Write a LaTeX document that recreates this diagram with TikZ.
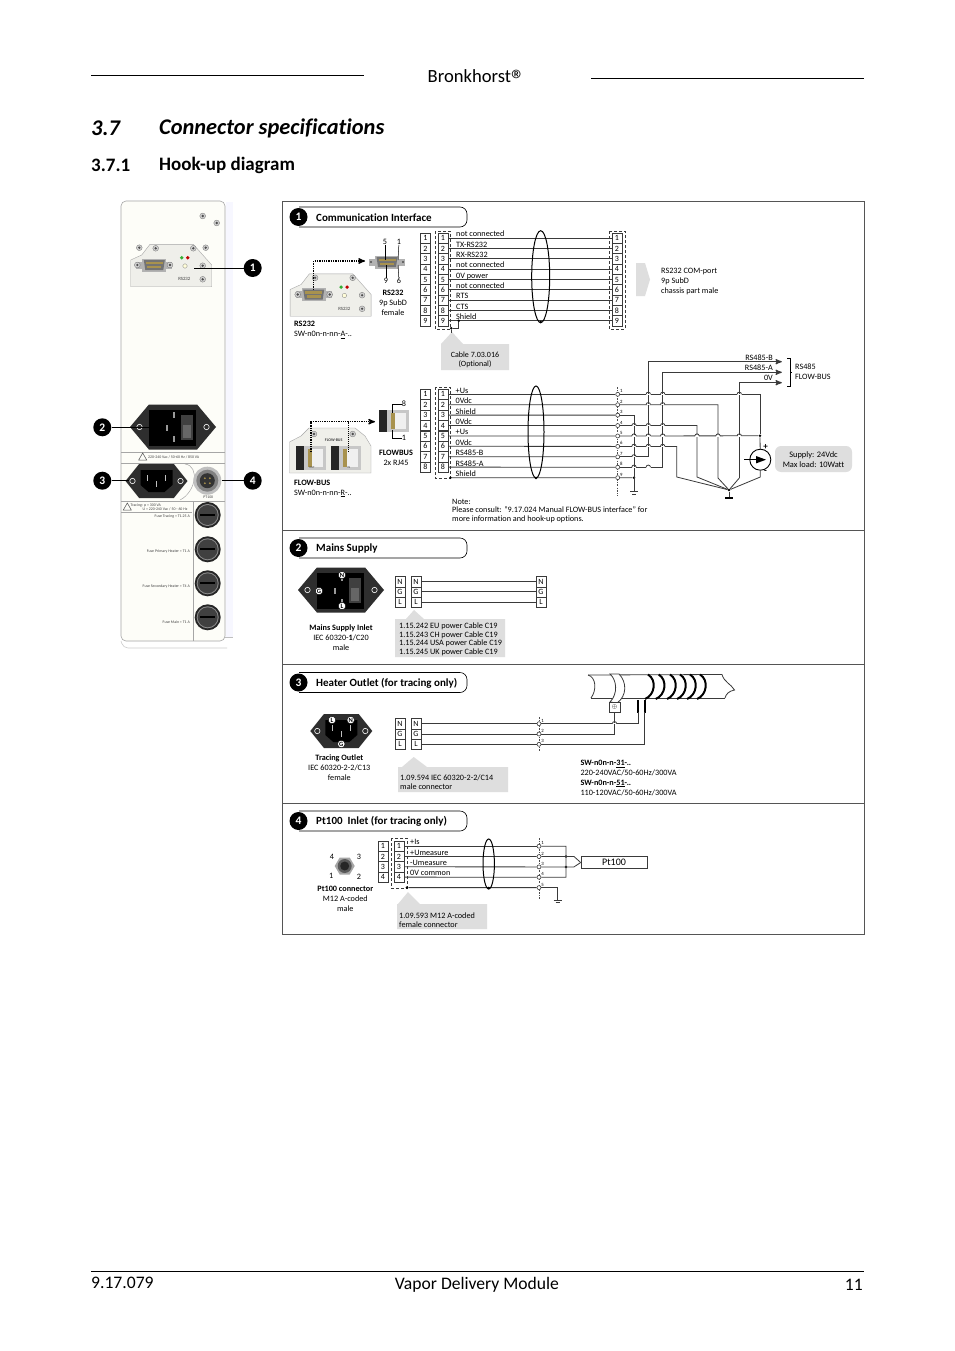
\documentclass[tikz,border=0pt]{standalone}
\usepackage{fontspec}
\setmainfont{Carlito}[Numbers=Lining,Ligatures=CommonOff]
\usetikzlibrary{arrows,positioning}

\definecolor{wirecol}{HTML}{3A3A3A}
\definecolor{framecol}{HTML}{555555}
\definecolor{noteback}{HTML}{DEDEDE}
\definecolor{plateback}{HTML}{EFEFEA}
\definecolor{panelback}{HTML}{FDFDF8}
\definecolor{contact}{HTML}{A8924E}

% section heading bar: number, centre height, title
\newcommand\headbar[3]{
  \draw[pill] (299,#2-10) -- (467,#2-10) -- (467,#2+10) -- (299,#2+10);
  \node[badge] (head#1) at (298.5,#2) {#1};
  \node[headtxt] (title#1) at (316,#2) {#3};
}
\newcommand\hop[2]{
  \draw[white,line width=1.3pt] (#1-2.2,#2) -- (#1+2.2,#2);
  \draw[wire] (#1-2.2,#2) .. controls (#1-2.2,#2-2.8) and (#1+2.2,#2-2.8) .. (#1+2.2,#2);
}
\newcommand\screw[2]{
  \fill[black!18] (#1,#2) circle[radius=2.9];
  \draw[black!55,line width=.3pt] (#1,#2) circle[radius=2.9];
  \fill[black!70] (#1,#2) circle[radius=1.3];
}
% 9 pin sub-D with flange
\newcommand\dsub[2]{
  \fill[black!30] (#1-18,#2-3.5) rectangle (#1+18,#2+3.5);
  \fill[black!30] (#1-12,#2-6.5) rectangle (#1+12,#2+6.5);
  \fill[black!55] (#1-10.5,#2-5) -- (#1+10.5,#2-5) -- (#1+9,#2+5) -- (#1-9,#2+5) -- cycle;
  \fill[contact] (#1-8.5,#2-3.2) rectangle (#1+8.5,#2-.7);
  \fill[contact] (#1-7,#2+.7) rectangle (#1+7,#2+3.2);
  \fill[black!70] (#1-16,#2) circle[radius=1.2];
  \fill[black!70] (#1+16,#2) circle[radius=1.2];
}
% RS232 plate around a sub-D at #1,#2
\newcommand\rsplate[2]{
  \draw[draw=black!35,fill=plateback,line width=.4pt] (#1-23.6,#2+21.7) -- (#1-23.6,#2-5) -- (#1-12.6,#2-10) -- (#1-4.3,#2-20.7) -- (#1+39,#2-20.7) -- (#1+57.4,#2) -- (#1+57.4,#2+21.7) -- cycle;
  \dsub{#1}{#2}
  \foreach \sx/\sy in {1.4/-16.7,39/-16.7,48.4/.7,48.4/14.3} {\screw{#1+\sx}{#2+\sy}}
  \fill[green!60!black!80] (#1+27.4,#2-7.3) circle[radius=1.9];
  \fill[red!75!black] (#1+33.4,#2-7.3) circle[radius=1.9];
  \draw[black!50,fill=yellow!15,line width=.3pt] (#1+30.7,#2+1) circle[radius=2.2];
}
\newcommand\hexplate[4]{
  \fill[black!82] (#1-#3,#2) -- (#1-.56*#3,#2-#4) -- (#1+.56*#3,#2-#4) -- (#1+#3,#2) -- (#1+.56*#3,#2+#4) -- (#1-.56*#3,#2+#4) -- cycle;
}
% mains inlet with switch
\newcommand\inletplate[2]{
  \hexplate{#1}{#2}{43}{22.5}
  \fill[black] (#1-24,#2-17) rectangle (#1+23,#2+19);
  \fill[black!75] (#1+8,#2-12) rectangle (#1+20,#2+13);
  \fill[black!60] (#1+10,#2-2) rectangle (#1+18,#2+11);
  \foreach \sx/\sy in {1/-12,-6/1,1/12} {\fill[black!40] (#1+\sx-1,#2+\sy-3) rectangle (#1+\sx+1,#2+\sy+3);}
  \draw[white,line width=.6pt] (#1-33.5,#2) circle[radius=2.7];
  \draw[white,line width=.6pt] (#1+33.5,#2) circle[radius=2.7];
}
% tracing outlet
\newcommand\outletplate[2]{
  \hexplate{#1}{#2}{31}{17}
  \fill[black] (#1-16,#2-11) -- (#1+16,#2-11) -- (#1+16,#2+4) -- (#1+8,#2+11) -- (#1-8,#2+11) -- (#1-16,#2+4) -- cycle;
  \foreach \sx/\sy in {-9/-3,9/-3,0/3} {\fill[black!25] (#1+\sx-.8,#2+\sy-3) rectangle (#1+\sx+.8,#2+\sy+3);}
  \draw[white,line width=.6pt] (#1-24,#2) circle[radius=2.7];
  \draw[white,line width=.6pt] (#1+24,#2) circle[radius=2.7];
}
\newcommand\fusecap[2]{
  \fill[black!85] (#1,#2) circle[radius=13];
  \fill[black!45] (#1,#2) circle[radius=11];
  \fill[black!75] (#1,#2) circle[radius=10];
  \fill[black] (#1-7.5,#2-1) rectangle (#1+7.5,#2+1);
}
% RJ45 jack, #3 = half height
\newcommand\rjack[3]{
  \fill[black!85] (#1-15,#2-#3) rectangle (#1-7,#2+#3);
  \fill[black!22] (#1-7,#2-#3) rectangle (#1+15,#2+#3);
  \fill[black!6] (#1+1,#2-#3+3) -- (#1+12,#2-#3+3) -- (#1+12,#2+#3-3) -- (#1+1,#2+#3-3) -- cycle;
  \fill[contact] (#1-3,#2-#3+3) rectangle (#1+1,#2+#3-3);
}
\newcommand\warntri[2]{
  \draw[black!70,line width=.5pt] (#1-4,#2+3) -- (#1,#2-4) -- (#1+4,#2+3) -- cycle;
}

\begin{document}
\begin{tikzpicture}[x=1pt,y=-1pt,>=stealth',
  wire/.style={draw=wirecol,line width=.8pt},
  thinwire/.style={draw=black,line width=.5pt},
  pin/.style={draw=wirecol,line width=.5pt,fill=white,minimum width=10.3pt,minimum height=10.3pt,inner sep=0pt,font=\fontsize{8}{8}\selectfont},
  term/.style={circle,draw=wirecol,line width=.6pt,fill=white,minimum size=4pt,inner sep=0pt},
  num/.style={inner sep=0pt,font=\fontsize{4.8}{5}\selectfont},
  dot/.style={circle,fill=black,minimum size=2.8pt,inner sep=0pt},
  wirelab/.style={anchor=west,inner sep=0pt,yshift=-.8pt,text height=5.2pt,text depth=1.4pt,font=\fontsize{8.2}{9}\selectfont},
  txt/.style={inner sep=0pt,align=center,font=\fontsize{8.2}{10}\selectfont},
  txtl/.style={inner sep=0pt,align=left,anchor=north west,font=\fontsize{8.2}{10}\selectfont},
  tiny/.style={inner sep=0pt,align=left,text=black!75,font=\fontsize{3.9}{4.4}\selectfont},
  notetxt/.style={inner sep=0pt,align=left,anchor=north west,font=\fontsize{8.2}{8.4}\selectfont},
  note/.style={fill=noteback,draw=none},
  pill/.style={draw=black,line width=.6pt,rounded corners=7pt},
  badge/.style={circle,fill=black,text=white,minimum size=18pt,inner sep=0pt,font=\fontsize{11.5}{12}\bfseries\selectfont},
  headtxt/.style={anchor=west,inner sep=0pt,yshift=-.8pt,font=\fontsize{11}{12}\bfseries\selectfont},
  letter/.style={circle,draw=black,line width=.4pt,fill=white,minimum size=7.5pt,inner sep=0pt,font=\fontsize{6.5}{7}\bfseries\selectfont},
  boxdash/.style={draw=wirecol,line width=.6pt,dash pattern=on 3pt off 2pt},
  axis/.style={draw=black!70,line width=.5pt,dash pattern=on 2pt off 1.4pt on .6pt off 1.4pt},
  pagetxt/.style={inner sep=0pt,font=\fontsize{17.6}{20}\selectfont},
  bigtxt/.style={inner sep=0pt,anchor=west,font=\fontsize{22.4}{26}\bfseries\itshape\selectfont},
  subtxt/.style={inner sep=0pt,anchor=west,font=\fontsize{19}{22}\bfseries\selectfont},
  pageline/.style={draw=black,line width=.7pt},
  link/.style={draw=black,line width=.6pt},
  pointer/.style={->,densely dotted,draw=black,line width=1.3pt}]
\fill[white] (0,0) rectangle (954,1351);
\useasboundingbox (0,0) rectangle (954,1351);

% page header and footer
\draw[pageline] (91,75) -- (364,75);
\draw[pageline] (591,78) -- (864,78);
\node[pagetxt,font=\fontsize{18.6}{20}\selectfont,anchor=base] (brand) at (476.5,82.5) {Bronkhorst{\fontsize{28}{28}\selectfont\raisebox{-7pt}{®}}};
\node[bigtxt] (secnum) at (91,128) {3.7};
\node[bigtxt] (sectitle) at (159,128) {Connector specifications};
\node[subtxt] (subnum) at (91,165) {3.7.1};
\node[subtxt] (subtitle) at (159,165) {Hook-up diagram};
\draw[pageline] (91,1271) -- (864,1271);
\node[pagetxt,anchor=west] (docnum) at (91,1282.5) {9.17.079};
\node[pagetxt] (docname) at (477,1284.5) {Vapor Delivery Module};
\node[pagetxt,anchor=east] (pagenum) at (863,1284.5) {11};

% instrument rear panel
\fill[black!2!blue!3] (226,202) rectangle (233,637);
\draw[black!25,line width=.5pt] (225,637) -- (233,637);
\draw[black!20,line width=.6pt,rounded corners=5pt] (121,641) -- (123,648) -- (227,648);
\draw[draw=black!35,fill=panelback,line width=.6pt,rounded corners=5pt] (121,641) -- (121,201) -- (225,201) -- (225,641) -- cycle;
\screw{202.7}{216}
\screw{216.7}{223}
\rsplate{154.3}{265}
\screw{139.3}{247.7}
\screw{205.7}{247.7}
\screw{137.3}{265}
\screw{170}{265}
\node[tiny,font=\fontsize{4.8}{5}\selectfont] (panelrs) at (184.3,279) {RS232};
\inletplate{173}{427}
\draw[black!35,line width=.5pt] (121,452.7) -- (225,452.7);
\draw[black!35,line width=.5pt] (121,463.3) -- (225,463.3);
\warntri{142.7}{457}
\node[tiny,anchor=west] (ratea) at (148,457.5) {220-240 Vac / 50-60 Hz / 850 VA};
\draw[black!35,line width=.5pt] (185,464) .. controls (200,466) and (196,492) .. (180,500);
\outletplate{156.5}{481}
\fill[black!25] (207.3,480.7) circle[radius=14];
\fill[black!50] (207.3,480.7) circle[radius=11];
\fill[black!80] (207.3,480.7) circle[radius=7.5];
\foreach \sx/\sy in {-2.5/-2.5,2.5/-2.5,-2.5/2.5,2.5/2.5} {\fill[contact] (207.3+\sx,480.7+\sy) circle[radius=1];}
\node[tiny] (panelpt) at (208.3,497.3) {PT100};
\draw[black!35,line width=.5pt] (121,501) -- (225,501);
\draw[black!35,line width=.5pt] (121,512.3) -- (191.7,512.3);
\draw[black!35,line width=.5pt] (193.3,501) -- (193.3,641);
\warntri{127.3}{507}
\node[tiny] (rateb) at (159,507) {Tracing: p = 300 VA\\\hspace*{12pt}U = 220-240 Vac / 50 - 60 Hz};
\fusecap{207.7}{515}
\fusecap{207.7}{549.3}
\fusecap{207.7}{583.3}
\fusecap{207.7}{617.3}
\node[tiny,anchor=east] (fusea) at (190,516) {Fuse Tracing = T1.25 A};
\node[tiny,anchor=east] (fuseb) at (190,551.7) {Fuse Primary Heater = T1 A};
\node[tiny,anchor=east] (fusec) at (190,586.7) {Fuse Secondary Heater = T4 A};
\node[tiny,anchor=east] (fused) at (190,622.3) {Fuse Main = T1 A};
% panel call-outs
\coordinate (spot1) at (194,268);
\coordinate (spot2) at (157,427.3);
\coordinate (spot3) at (129,480.7);
\coordinate (spot4) at (221.7,480.7);
\node[badge] (mark1) at (252.7,268) {1};
\node[badge] (mark2) at (102.3,427.3) {2};
\node[badge] (mark3) at (102.3,480.7) {3};
\node[badge] (mark4) at (252.7,480.7) {4};
\draw[link] (mark1) -- (spot1);
\draw[link] (mark2) -- (spot2);
\draw[link] (mark3) -- (spot3);
\draw[link] (mark4) -- (spot4);

% frame
\draw[draw=framecol,line width=.8pt] (282,201) rectangle (864.5,934.5);
\draw[draw=framecol,line width=.8pt] (282,530.5) -- (864.5,530.5);
\draw[draw=framecol,line width=.8pt] (282,664.5) -- (864.5,664.5);
\draw[draw=framecol,line width=.8pt] (282,803) -- (864.5,803);

% 1: RS232
\headbar{1}{217}{Communication Interface}
\rsplate{313.7}{294.5}
\screw{297.7}{294.5}
\screw{329.7}{294.5}
\node[tiny,font=\fontsize{4.8}{5}\selectfont] (platers) at (344.3,308.5) {RS232};
\dsub{387}{262}
\coordinate (rsfrom) at (313.7,290);
\coordinate (rsto) at (365,261);
\draw[pointer] (rsfrom) |- (rsto);
\node[txt] (p5) at (385,242) {5};
\node[txt] (p1) at (399,242) {1};
\node[txt] (p9) at (386,281) {9};
\node[txt] (p6) at (399,281) {6};
\draw[thinwire] (p5) -- (385,260);
\draw[thinwire] (p1) -- (398,260);
\draw[thinwire] (p9) -- (386,265);
\draw[thinwire] (p6) -- (398,265);
\node[txt,anchor=north] (rsname) at (393,289.5) {\textbf{RS232}\\9p SubD\\female};
\node[txtl] (rsmodel) at (294,321) {\textbf{RS232}\\SW-n0n-n-nn-\underline{A}-..};
\draw[boxdash] (435,231) rectangle (450,329);
\draw[boxdash] (609,231) rectangle (625,329);
\foreach \i in {1,...,9} {
  \node[pin] (ra\i) at (425.5,{238.2+10.33*(\i-1)}) {\i};
  \node[pin] (rb\i) at (443,{238.2+10.33*(\i-1)}) {\i};
  \node[pin] (rc\i) at (617,{238.2+10.33*(\i-1)}) {\i};
  \draw[wire] (rb\i) -- (rc\i);
}
\foreach \i/\t in {1/not connected,2/TX-RS232,3/RX-RS232,4/not connected,5/0V power,6/not connected,7/RTS,8/CTS,9/Shield} {
  \node[wirelab] (rl\i) at (456,{234.2+10.33*(\i-1)}) {\t};
}
\draw[wire,line width=1pt,draw=black] (540.7,276.7) ellipse[x radius=9,y radius=46];
\node[dot] (rsdot) at (540.7,322) {};
\node[dot] (shlda) at (458.7,320.8) {};
\node[dot] (shldb) at (451.3,328.3) {};
\draw[wire] (shlda) |- (shldb);
\draw[note,fill=noteback] (441,344) -- (452,332) -- (463,344) -- (509,344) -- (509,370) -- (441,370) -- cycle;
\draw[wire] (shldb) -- (451.3,333);
\node[txt,font=\fontsize{8}{8.8}\selectfont] (cable) at (475,360) {Cable 7.03.016\\(Optional)};
\fill[noteback] (636,263) -- (645,263) -- (650,279.5) -- (645,296) -- (636,296) -- cycle;
\node[txtl] (rsport) at (661,268) {RS232 COM-port\\9p SubD\\chassis part male};

% 1: FLOW-BUS
\draw[draw=black!35,fill=plateback,line width=.4pt] (289.5,473) -- (289.5,442) -- (301,436) -- (309,428) -- (355,428) -- (365,436) -- (371,446) -- (371,473) -- cycle;
\rjack{311}{457.7}{12}
\rjack{346}{457.7}{12}
\screw{314}{434}
\screw{352.7}{434}
\node[tiny,font=\fontsize{4}{5}\bfseries\selectfont] (busplate) at (333.7,440) {FLOW-BUS};
\node[tiny,font=\fontsize{3}{4}\selectfont] (busout) at (312,468) {OUT};
\node[tiny,font=\fontsize{3}{4}\selectfont] (busin) at (349,468) {IN};
\rjack{393.7}{421}{11}
\coordinate (busa) at (311,452);
\coordinate (busb) at (348,452);
\coordinate (busc) at (375,421.7);
\draw[densely dotted,line width=1pt] (busb) -- (348,421.7);
\draw[pointer] (busa) |- (busc);
\node[txt] (n8) at (404,404) {8};
\node[txt] (n1) at (404,438) {1};
\draw[thinwire] (n8) -| (392,413);
\draw[thinwire] (n1) -| (392,430);
\node[txt,anchor=north] (busname) at (396,449.5) {\textbf{FLOWBUS}\\2x RJ45};
\node[txtl] (busmodel) at (294,479.5) {\textbf{FLOW-BUS}\\SW-n0n-n-nn-\underline{R}-..};
\draw[boxdash] (435,387) rectangle (450,478);
\draw[axis] (617.7,387) -- (617.7,496);
\foreach \i in {1,...,8} {
  \node[pin] (fa\i) at (425.5,{394.3+10.4*(\i-1)}) {\i};
  \node[pin] (fb\i) at (443,{394.3+10.4*(\i-1)}) {\i};
}
\foreach \i in {1,...,9} {
  \node[term] (ft\i) at (617.7,{394.3+10.42*(\i-1)}) {};
  \node[num,above right=-.3pt and .6pt of ft\i] (fn\i) {\i};
}
\foreach \i in {1,...,8} {
  \draw[wire] (fb\i) -- (ft\i);
}
\foreach \i/\t in {1/+Us,2/0Vdc,3/Shield,4/0Vdc,5/+Us,6/0Vdc,7/RS485-B,8/RS485-A,9/Shield} {
  \node[wirelab] (fl\i) at (455.5,{390.5+10.42*(\i-1)}) {\t};
}
\node[dot] (fshld) at (450.5,477.7) {};
\draw[wire] (fshld) -- (ft9);
\draw[wire,line width=1pt,draw=black] (536,432) ellipse[x radius=8,y radius=46];
\node[dot] (fbdot) at (536,478) {};
\node[txtl,font=\fontsize{8.2}{8.6}\selectfont] (busnote) at (452,498.8) {Note:\\Please consult: ''9.17.024 Manual FLOW-BUS interface'' for\\more information and hook-up options.};
% supply and outgoing lines
\node[circle,draw=black,line width=.9pt,minimum size=21pt,inner sep=0pt] (src) at (760.3,459.7) {};
\coordinate (srcin) at (744,459.7);
\fill[black] (756,456) -- (766,459.7) -- (756,463.4) -- cycle;
\draw[thinwire] (srcin) -- (756,459.7);
\node[txt,font=\fontsize{9}{9}\bfseries\selectfont] (srcplus) at (765.5,447) {+};
\node[txt,font=\fontsize{9}{9}\bfseries\selectfont] (srcminus) at (765.5,472) {-};
\node[fill=noteback,rounded corners=6pt,minimum width=77pt,minimum height=26pt,inner sep=0pt,align=center,font=\fontsize{8.4}{10}\selectfont] (supply) at (813.5,459) {\rule{0pt}{8pt}Supply: 24Vdc\\Max load: 10Watt};
\node[dot] (gnd) at (729,490) {};
\fill[black] (725,496.7) rectangle (733.3,499);
\draw[wire] (gnd) -- (729,497);
\node[dot] (jplus) at (760,435.8) {};
\coordinate (tb) at (648.3,361.7);
\coordinate (ta) at (662.7,372.3);
\coordinate (tz) at (739.3,382.7);
\coordinate (ka) at (718,478);
\coordinate (kb) at (697,477);
\coordinate (kc) at (676.7,477);
\coordinate (kd) at (739.3,478);
\coordinate (ke) at (760.3,477);
\node[inner sep=0pt,minimum size=0pt] (outb) at (782,361.7) {};
\node[inner sep=0pt,minimum size=0pt] (outa) at (782,372.3) {};
\node[inner sep=0pt,minimum size=0pt] (outz) at (782,382.7) {};
\draw[wire,->,line width=1.2pt] (ft7) -| (tb) -- (outb);
\draw[wire,->,line width=1.2pt] (ft8) -| (ta) -- (outa);
\draw[wire,->,line width=1.2pt] (kd) -- (tz) -- (outz);
\draw[wire] (ft1) -| (jplus);
\draw[wire] (ft5) -- (jplus);
\draw[wire] (jplus) -- (src);
\draw[wire] (src) -- (ke) -- (gnd);
\draw[wire] (ft2) -| (ka) -- (gnd);
\draw[wire] (ft4) -| (kb) -- (gnd);
\draw[wire] (ft6) -| (kc) -- (gnd);
\draw[wire] (kd) -- (gnd);
\coordinate (sgnd) at (634,491.7);
\node[dot] (sdot) at (634,477.7) {};
\draw[wire] (ft3) -| (sgnd);
\draw[wire] (ft9) -- (sdot);
\draw[wire] (630,491.7) -- (638,491.7);
\draw[wire] (632,494) -- (636,494);
\foreach \x/\y in {648.3/394.3,662.7/394.3,739.3/394.3,648.3/404.7,662.7/404.7,634/425.6,648.3/425.6,662.7/425.6,634/436,648.3/436,662.7/436,697/436,718/436,739.3/436,634/446.4,648.3/446.4,662.7/446.4,634/456.8,634/467.2,648.3/467.2} {
  \hop{\x}{\y}
}
\node[txt,anchor=east] (nameb) at (773,358) {RS485-B};
\node[txt,anchor=east] (namea) at (773,368) {RS485-A};
\node[txt,anchor=east] (namez) at (773,378) {0V};
\draw[thinwire,line width=.7pt] (787,358) -- (790,358) -- (790,386) -- (787,386);
\draw[thinwire,line width=.7pt] (790,372) -- (792,372);
\node[txtl] (busright) at (795,363.5) {RS485\\FLOW-BUS};

% 2: mains supply
\headbar{2}{548}{Mains Supply}
\inletplate{341}{590}
\node[letter] (letn) at (342,575) {N};
\node[letter] (letg) at (319,591) {G};
\node[letter] (letl) at (342,606) {L};
\node[txt,anchor=north] (mainsname) at (341,624.5) {\textbf{Mains Supply Inlet}\\IEC 60320-\textbf{1}/C20\\male};
\foreach \i/\t in {1/N,2/G,3/L} {
  \node[pin] (ma\i) at (400,{581.7+10.2*(\i-1)}) {\t};
  \node[pin] (mb\i) at (416,{581.7+10.2*(\i-1)}) {\t};
  \node[pin] (mc\i) at (541,{581.7+10.2*(\i-1)}) {\t};
  \draw[wire,line width=1pt] (mb\i) -- (mc\i);
}
\fill[noteback] (395,619) -- (406,619) -- (414,610) -- (424,619) -- (505,619) -- (505,657) -- (395,657) -- cycle;
\node[notetxt] (mainscab) at (399,623) {1.15.242 EU power Cable C19\\1.15.243 CH power Cable C19\\1.15.244 USA power Cable C19\\1.15.245 UK power Cable C19};

% 3: heater outlet
\headbar{3}{682.5}{Heater Outlet (for tracing only)}
\outletplate{341.3}{731}
\node[letter] (letol) at (332,720) {L};
\node[letter] (leton) at (350.7,720) {N};
\node[letter] (letog) at (341.3,744) {G};
\node[txt,anchor=north] (outname) at (339.3,754.5) {\textbf{Tracing Outlet}\\IEC 60320-2-2/C13\\female};
% heated pipe
\draw[wire] (588,675) .. controls (596,677) and (597,690) .. (591,698);
\draw[wire] (722,674.5) .. controls (724,682) and (731,684) .. (734.5,690) .. controls (729,691) and (726,694) .. (725,698);
\draw[wire] (588,675) -- (722,674.5);
\draw[wire] (591,698) -- (725,698);
\foreach \x in {648,658.7,670,680,690,700} {
  \draw[black,line width=2pt] (\x,674.5) .. controls (\x+9,680) and (\x+7,695) .. (\x-3,699);
}
\draw[wire,fill=white] (610,674) .. controls (617,680) and (618,694) .. (610,702) -- (617,703) .. controls (627,696) and (627,682) .. (619,674) -- cycle;
\node[draw=wirecol,line width=.5pt,fill=white,minimum width=11pt,minimum height=10pt,inner sep=0pt,font=\fontsize{6}{7}\selectfont] (earth) at (614.5,707) {$\oplus$};
\draw[black,line width=2pt] (638,700) -- (638,713);
\draw[black,line width=2pt] (644.7,700) -- (644.7,713);
\draw[axis] (539,717) -- (539,752);
\foreach \i/\t in {1/N,2/G,3/L} {
  \node[pin] (oa\i) at (400,{723.7+10.3*(\i-1)}) {\t};
  \node[pin] (ob\i) at (416,{723.7+10.3*(\i-1)}) {\t};
  \node[term] (ot\i) at (539,{723.7+10.3*(\i-1)}) {};
  \node[num,above right=-.3pt and .6pt of ot\i] (on\i) {\i};
  \draw[wire] (ob\i) -- (ot\i);
}
\coordinate (legn) at (638,712);
\coordinate (legl) at (644.7,712);
\draw[wire] (ot1) -| (legn);
\draw[wire] (ot2) -| (earth);
\draw[wire] (ot3) -| (legl);
\hop{614.5}{723.7}
\fill[noteback] (398,767) -- (402,767) -- (413.7,757) -- (427,767) -- (508,767) -- (508,792) -- (398,792) -- cycle;
\node[notetxt] (outcab) at (400,775) {1.09.594 IEC 60320-2-2/C14\\male connector};
\node[txtl,font=\fontsize{8.2}{9.9}\selectfont] (outmodels) at (580.3,759.8) {\textbf{SW-n0n-n-\underline{31}-..}\\220-240VAC/50-60Hz/300VA\\\textbf{SW-n0n-n-\underline{51}-..}\\110-120VAC/50-60Hz/300VA};

% 4: Pt100
\headbar{4}{821}{Pt100\ \ Inlet (for tracing only)}
\fill[black!35] (334.7,866) -- (339.7,857.5) -- (349.7,857.5) -- (354.7,866) -- (349.7,874.5) -- (339.7,874.5) -- cycle;
\fill[black!65] (344.7,866) circle[radius=7];
\fill[black!85] (344.7,866) circle[radius=4.5];
\node[txt] (m4) at (332,857) {4};
\node[txt] (m3) at (359,857) {3};
\node[txt] (m1) at (331.3,876) {1};
\node[txt] (m2) at (359,876.7) {2};
\node[txt,anchor=north] (ptname) at (345.3,886) {\textbf{Pt100 connector}\\M12 A-coded\\male};
\draw[boxdash] (391,838) rectangle (407,888);
\draw[axis] (539,838) -- (539,900);
\foreach \i in {1,...,4} {
  \node[pin] (ta\i) at (383,{846.2+10.3*(\i-1)}) {\i};
  \node[pin] (tb\i) at (399,{846.2+10.3*(\i-1)}) {\i};
}
\foreach \i in {1,...,5} {
  \node[term] (tt\i) at (539,{846.2+10.35*(\i-1)}) {};
  \node[num,above right=-.3pt and .6pt of tt\i] (tn\i) {\i};
}
\foreach \i in {1,...,4} {
  \draw[wire] (tb\i) -- (tt\i);
}
\foreach \i/\t in {1/+Is,2/+Umeasure,3/-Umeasure,4/0V common} {
  \node[wirelab] (tl\i) at (410,{842+10.35*(\i-1)}) {\t};
}
\node[dot] (tshld) at (407,887.6) {};
\draw[wire] (tshld) -- (tt5);
\draw[wire,line width=1pt,draw=black] (488.7,864) ellipse[x radius=5.7,y radius=25];
\node[dot] (ptdot) at (488.7,888) {};
\node[draw=wirecol,line width=.6pt,minimum width=66pt,minimum height=11.6pt,inner sep=0pt,font=\fontsize{10}{10}\selectfont] (pt100) at (614,862.5) {Pt100};
\coordinate (bend1) at (566,846.2);
\coordinate (bend4) at (566,877.2);
\node[dot] (sensa) at (566,856.5) {};
\node[dot] (sensb) at (566,866.9) {};
\coordinate (lina) at (574,856.5);
\coordinate (linb) at (574,866.9);
\draw[wire] (tt1) -- (bend1) -- (bend4) -- (tt4);
\draw[wire] (tt2) -- (lina) -- (pt100.west);
\draw[wire] (tt3) -- (linb) -- (pt100.west);
\coordinate (ptg) at (557.7,900);
\draw[wire] (tt5) -| (ptg);
\draw[wire] (553.5,900) -- (562,900);
\draw[wire] (555.5,902.3) -- (560,902.3);
\fill[noteback] (397,904) -- (398,904) -- (408,892) -- (420,904) -- (487,904) -- (487,929) -- (397,929) -- cycle;
\node[notetxt] (ptcab) at (399,913) {1.09.593 M12 A-coded\\female connector};
\end{tikzpicture}
\end{document}
